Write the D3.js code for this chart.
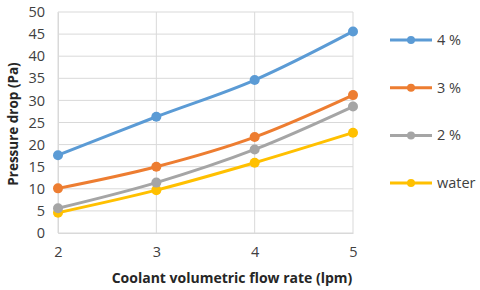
<!DOCTYPE html>
<html>
<head>
<meta charset="utf-8">
<script src="https://cdn.jsdelivr.net/npm/d3@7"></script>
<style>
  body { margin: 0; background: #fff; }
  svg { display: block; font-family: 'Open Sans', sans-serif; }
</style>
</head>
<body>
<script>
var flowRates = [2, 3, 4, 5]
var seriesNames = ['4 %', '3 %', '2 %', 'water']
var seriesColors = ['#5B9BD5', '#ED7D31', '#A5A5A5', '#FFC000']
var pct4 = [17.6, 26.3, 34.6, 45.6]
var pct3 = [10.1, 15.0, 21.7, 31.2]
var pct2 = [5.6, 11.4, 18.9, 28.6]
var water = [4.6, 9.7, 15.9, 22.7]
var yTicks = [0, 5, 10, 15, 20, 25, 30, 35, 40, 45, 50]

var seriesValues = [pct4, pct3, pct2, water]

var width = 480, height = 290
var margin = {left: 58, right: 127, top: 12, bottom: 57}

var svg = d3.select('body').append('svg').attr('width', width).attr('height', height)

var x = d3.scaleLinear().domain([2, 5]).range([margin.left, width - margin.right])
var y = d3.scaleLinear().domain([0, 50]).range([height - margin.bottom, margin.top])

// grid
var grid = svg.append('g')
grid.selectAll('.hg').data(yTicks).enter().append('line')
	.attr('x1', x(2)).attr('x2', x(5))
	.attr('y1', (d) => y(d)).attr('y2', (d) => y(d))
	.attr('stroke', '#d9d9d9').attr('stroke-width', 1)
grid.selectAll('.vg').data(flowRates).enter().append('line')
	.attr('x1', (d) => x(d)).attr('x2', (d) => x(d))
	.attr('y1', y(0)).attr('y2', y(50))
	.attr('stroke', '#d9d9d9').attr('stroke-width', 1)

// axes
var yAxis = d3.axisLeft(y).tickValues(yTicks).tickSize(0).tickPadding(13)
var xAxis = d3.axisBottom(x).tickValues(flowRates).tickFormat(d3.format('d')).tickSize(0).tickPadding(14)

var gy = svg.append('g').attr('transform', 'translate(' + margin.left + ',0)').call(yAxis)
var gx = svg.append('g').attr('transform', 'translate(0,' + y(0) + ')').call(xAxis)
gy.select('.domain').attr('stroke', '#d9d9d9')
gx.select('.domain').attr('stroke', '#d9d9d9')
svg.selectAll('.tick text').attr('font-size', 14.5).attr('fill', '#404040').attr('font-family', 'Open Sans, sans-serif')

// series
var line = d3.line()
	.x((d, i) => x(flowRates[i]))
	.y((d) => y(d))
	.curve(d3.curveCardinal.tension(0))

seriesValues.slice().reverse().forEach((vals, ri) => {
	var i = seriesValues.length - 1 - ri
	svg.append('path').attr('d', line(vals))
		.attr('fill', 'none').attr('stroke', seriesColors[i]).attr('stroke-width', 3)
	svg.selectAll('.pt' + i).data(vals).enter().append('circle')
		.attr('cx', (d, j) => x(flowRates[j])).attr('cy', (d) => y(d))
		.attr('r', 5).attr('fill', seriesColors[i])
})

// legend
var legend = svg.append('g')
seriesNames.forEach((name, i) => {
	var ly = 40 + i * 47.7
	legend.append('line').attr('x1', 390).attr('x2', 432).attr('y1', ly).attr('y2', ly)
		.attr('stroke', seriesColors[i]).attr('stroke-width', 3)
	legend.append('circle').attr('cx', 411).attr('cy', ly).attr('r', 4).attr('fill', seriesColors[i])
	legend.append('text').attr('x', 437).attr('y', ly).attr('dy', '0.35em')
		.attr('font-size', 14.5).attr('fill', '#404040').text(name)
})

// titles
svg.append('text')
	.attr('x', 232).attr('y', 283)
	.attr('text-anchor', 'middle').attr('font-size', 14).attr('font-weight', 'bold').attr('fill', '#262626')
	.text('Coolant volumetric flow rate (lpm)')

svg.append('text')
	.attr('transform', 'translate(18,' + 124 + ') rotate(-90)')
	.attr('text-anchor', 'middle').attr('font-size', 13.5).attr('font-weight', 'bold').attr('fill', '#262626')
	.text('Pressure drop (Pa)')
</script>
</body>
</html>
